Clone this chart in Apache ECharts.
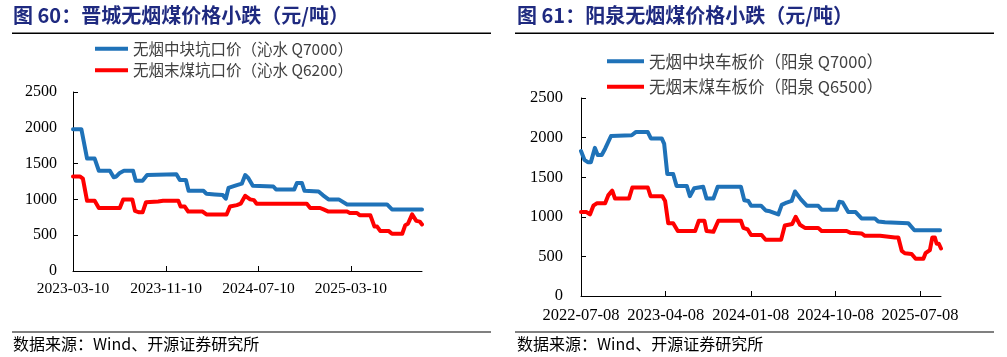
<!DOCTYPE html>
<html>
<head>
<meta charset="utf-8">
<script src="https://cdn.jsdelivr.net/npm/echarts@6/dist/echarts.min.js"></script>
<style>
html,body{margin:0;padding:0;background:#fff;}
#c{width:1007px;height:357px;}
</style>
</head>
<body>
<div id="c"></div>
<script>
// ---- Data: 晋城 (Jincheng) ----
const jcTitle = '图 60：晋城无烟煤价格小跌（元/吨）';
const jcBlockName = '无烟中块坑口价（沁水 Q7000）';
const jcFinesName = '无烟末煤坑口价（沁水 Q6200）';
const jcTicks = ['2023-03-10', '2023-11-10', '2024-07-10', '2025-03-10'];
const jcRange = ['2023-03-10', '2025-09-13'];
const jcBlockDates = ['2023-03-10','2023-04-01','2023-04-16','2023-05-06','2023-05-17','2023-06-15','2023-06-25','2023-07-02','2023-07-11','2023-07-22','2023-08-15','2023-08-22','2023-09-09','2023-09-21','2023-12-07','2023-12-16','2024-01-01','2024-01-08','2024-02-16','2024-02-24','2024-03-17','2024-04-07','2024-04-15','2024-04-22','2024-05-14','2024-05-27','2024-06-05','2024-06-13','2024-06-25','2024-08-18','2024-08-25','2024-10-12','2024-10-19','2024-11-01','2024-11-08','2024-12-15','2024-12-26','2025-01-10','2025-02-06','2025-02-28','2025-06-13','2025-06-26','2025-09-13'];
const jcBlockVals = [1980,1980,1570,1570,1400,1400,1310,1320,1370,1400,1400,1260,1260,1340,1350,1270,1270,1120,1120,1080,1070,1060,1010,1160,1200,1220,1340,1300,1190,1180,1140,1140,1230,1230,1120,1110,1060,1000,1000,930,930,860,860];
const jcFinesDates = ['2023-03-10','2023-03-28','2023-04-05','2023-04-16','2023-05-06','2023-05-17','2023-07-11','2023-07-20','2023-08-13','2023-08-20','2023-08-31','2023-09-09','2023-09-18','2023-10-20','2023-11-02','2023-12-12','2023-12-18','2023-12-29','2024-01-07','2024-02-14','2024-02-24','2024-04-17','2024-04-26','2024-05-14','2024-05-24','2024-06-05','2024-06-18','2024-06-28','2024-07-05','2024-11-14','2024-11-23','2024-12-19','2024-12-28','2025-01-10','2025-02-28','2025-03-07','2025-03-26','2025-04-02','2025-04-30','2025-05-11','2025-05-18','2025-05-26','2025-06-17','2025-06-26','2025-07-23','2025-07-31','2025-08-07','2025-08-18','2025-08-29','2025-09-07','2025-09-13'];
const jcFinesVals = [1320,1320,1290,980,980,880,880,1000,1000,840,820,820,960,970,980,980,900,900,830,830,790,790,900,920,940,1050,1000,990,940,940,880,880,860,830,830,810,810,780,780,620,620,560,560,520,520,640,660,790,700,690,650];

// ---- Data: 阳泉 (Yangquan) ----
const yqTitle = '图 61：阳泉无烟煤价格小跌（元/吨）';
const yqBlockName = '无烟中块车板价（阳泉 Q7000）';
const yqFinesName = '无烟末煤车板价（阳泉 Q6500）';
const yqTicks = ['2022-07-08', '2023-04-08', '2024-01-08', '2024-10-08', '2025-07-08'];
const yqRange = ['2022-07-08', '2025-09-14'];
const yqBlockDates = ['2022-07-08','2022-07-19','2022-07-30','2022-08-09','2022-08-22','2022-08-31','2022-09-13','2022-09-24','2022-10-13','2022-12-19','2023-01-01','2023-02-09','2023-02-19','2023-03-26','2023-04-03','2023-04-13','2023-05-02','2023-05-13','2023-06-15','2023-06-25','2023-07-09','2023-08-07','2023-08-18','2023-09-09','2023-09-23','2023-12-07','2023-12-18','2023-12-31','2024-01-09','2024-02-10','2024-02-25','2024-03-10','2024-03-15','2024-04-06','2024-04-17','2024-05-03','2024-05-19','2024-05-30','2024-06-18','2024-07-07','2024-08-13','2024-08-24','2024-10-12','2024-10-20','2024-10-31','2024-11-18','2024-12-12','2024-12-31','2025-02-12','2025-02-23','2025-03-17','2025-03-22','2025-05-31','2025-06-20','2025-09-11'];
const yqBlockVals = [1830,1720,1690,1690,1870,1780,1780,1860,2020,2030,2070,2070,1990,1990,1920,1540,1540,1390,1390,1260,1360,1380,1230,1230,1380,1380,1210,1200,1140,1140,1080,1070,1050,1030,1150,1180,1200,1320,1220,1140,1140,1090,1090,1190,1180,1060,1060,980,980,940,930,920,920,830,830];
const yqFinesDates = ['2022-07-08','2022-07-26','2022-08-06','2022-08-17','2022-08-28','2022-09-24','2022-10-04','2022-10-17','2022-10-26','2022-12-10','2022-12-21','2023-02-09','2023-02-18','2023-03-28','2023-04-06','2023-04-16','2023-05-02','2023-05-17','2023-07-12','2023-07-24','2023-08-11','2023-08-18','2023-09-09','2023-09-25','2023-12-07','2023-12-15','2023-12-29','2024-01-09','2024-02-12','2024-02-25','2024-04-15','2024-04-27','2024-05-21','2024-06-01','2024-06-15','2024-07-01','2024-08-13','2024-08-24','2024-11-13','2024-11-24','2024-12-31','2025-01-11','2025-03-01','2025-03-06','2025-04-18','2025-04-29','2025-05-10','2025-05-20','2025-06-11','2025-06-24','2025-07-19','2025-07-26','2025-08-09','2025-08-17','2025-08-25','2025-08-31','2025-09-07','2025-09-14'];
const yqFinesVals = [1060,1060,1030,1140,1170,1170,1270,1330,1230,1230,1370,1370,1260,1260,1200,920,920,820,820,950,950,820,810,950,950,860,840,770,770,710,710,890,910,1000,900,860,860,820,820,800,790,760,760,750,740,740,570,540,530,470,470,540,580,740,740,660,660,600];

const yTicks = [0, 500, 1000, 1500, 2000, 2500];
const sourceText = '数据来源：Wind、开源证券研究所';

// ---- Styles ----
const BLUE = '#1f72b8';
const RED = '#ff0000';
const SERIF = '"Liberation Serif","Times New Roman",serif';
const CJK = '"Noto Sans CJK SC","Noto Sans",sans-serif';

const ts = s => Date.UTC(+s.slice(0, 4), +s.slice(5, 7) - 1, +s.slice(8, 10));
const pairs = (ds, vs) => ds.map((d, i) => [ts(d), vs[i]]);

function xAxisFor(gridIndex, ticks, range, margin, fs) {
  const tv = ticks.map(ts);
  return {
    type: 'value', gridIndex: gridIndex,
    min: ts(range[0]), max: ts(range[1]),
    axisLine: {show: true, lineStyle: {color: '#000', width: 1}},
    axisTick: {show: true, inside: true, length: 5, customValues: tv, lineStyle: {color: '#000'}},
    axisLabel: {
      customValues: tv, margin: margin,
      color: '#000', fontFamily: SERIF, fontSize: fs,
      formatter: v => { const i = tv.indexOf(v); return i >= 0 ? ticks[i] : ''; }
    },
    splitLine: {show: false}
  };
}
function yAxisFor(gridIndex, margin, fs) {
  return {
    type: 'value', gridIndex: gridIndex,
    min: yTicks[0], max: yTicks[yTicks.length - 1], interval: yTicks[1] - yTicks[0],
    axisLine: {show: true, lineStyle: {color: '#000', width: 1}},
    axisTick: {show: true, inside: true, length: 5, lineStyle: {color: '#000'}},
    axisLabel: {margin: margin, color: '#000', fontFamily: SERIF, fontSize: fs, formatter: v => String(v)},
    splitLine: {show: false}
  };
}
function lineSeries(name, color, xi, data) {
  return {
    name: name, type: 'line', xAxisIndex: xi, yAxisIndex: xi,
    data: data, showSymbol: false, symbol: 'none', animation: false,
    lineStyle: {color: color, width: 4, join: 'round', cap: 'round'},
    itemStyle: {color: color}
  };
}
function legendFor(names, left, top, w, gap, fs) {
  return {
    data: names, orient: 'vertical', left: left, top: top, padding: 0,
    icon: 'rect', itemWidth: w, itemHeight: 4, itemGap: gap,
    selectedMode: false,
    textStyle: {fontFamily: CJK, fontSize: fs, color: '#404040'}
  };
}

const chart = echarts.init(document.getElementById('c'), null, {renderer: 'canvas'});
chart.setOption({
  animation: false,
  backgroundColor: '#fff',
  grid: [
    {left: 73, top: 92, width: 349, height: 179},
    {left: 581, top: 98, width: 360, height: 198}
  ],
  xAxis: [xAxisFor(0, jcTicks, jcRange, 10, 15.5), xAxisFor(1, yqTicks, yqRange, 11, 16.5)],
  yAxis: [yAxisFor(0, 16, 16), yAxisFor(1, 18, 16.5)],
  legend: [
    legendFor([jcBlockName, jcFinesName], 95, 41, 33, 6, 15.5),
    legendFor([yqBlockName, yqFinesName], 607, 53, 37, 9, 16.5)
  ],
  series: [
    lineSeries(jcBlockName, BLUE, 0, pairs(jcBlockDates, jcBlockVals)),
    lineSeries(jcFinesName, RED, 0, pairs(jcFinesDates, jcFinesVals)),
    lineSeries(yqBlockName, BLUE, 1, pairs(yqBlockDates, yqBlockVals)),
    lineSeries(yqFinesName, RED, 1, pairs(yqFinesDates, yqFinesVals))
  ],
  graphic: [
    {type: 'text', left: 13, top: 5, style: {text: jcTitle, font: 'bold 20px ' + CJK, fill: '#1f2a80'}},
    {type: 'text', left: 517, top: 5, style: {text: yqTitle, font: 'bold 20px ' + CJK, fill: '#1f2a80'}},
    {type: 'rect', shape: {x: 12, y: 32.5, width: 479, height: 1.5}, style: {fill: '#000'}},
    {type: 'rect', shape: {x: 515, y: 32.5, width: 479, height: 1.5}, style: {fill: '#000'}},
    {type: 'rect', shape: {x: 12, y: 331, width: 479, height: 2}, style: {fill: '#808080'}},
    {type: 'rect', shape: {x: 515, y: 331, width: 479, height: 2}, style: {fill: '#808080'}},
    {type: 'text', left: 13, top: 336, style: {text: sourceText, font: '16px ' + CJK, fill: '#000'}},
    {type: 'text', left: 517, top: 336, style: {text: sourceText, font: '16px ' + CJK, fill: '#000'}}
  ]
});
</script>
</body>
</html>
